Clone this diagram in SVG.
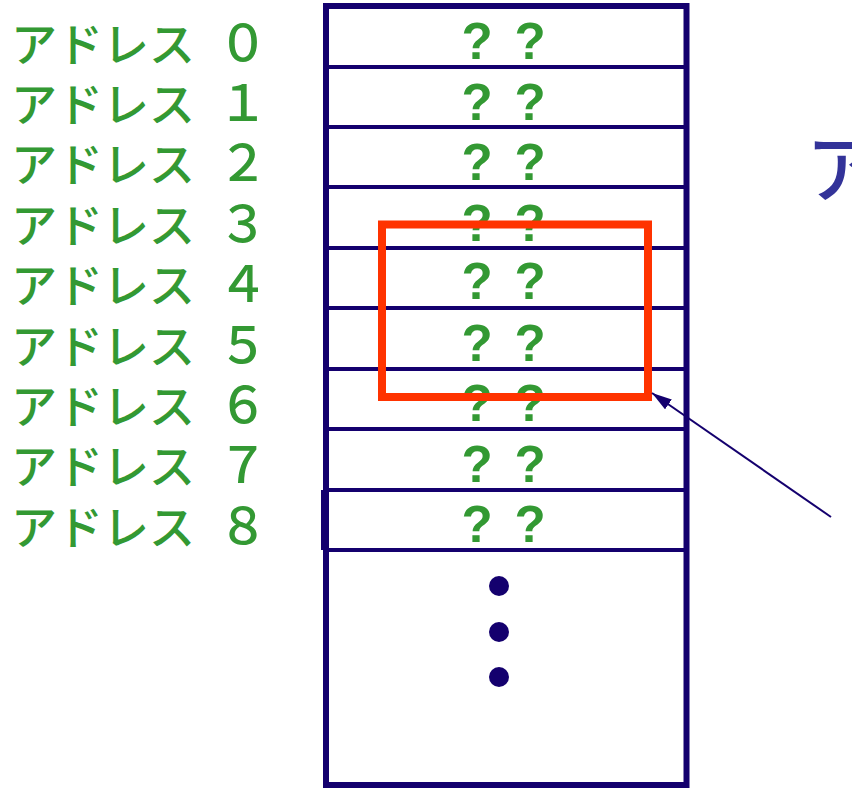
<svg xmlns="http://www.w3.org/2000/svg" width="852" height="788" viewBox="0 0 852 788">
  <defs>
    <style>
      .lbl { font-family: "Noto Sans CJK JP", "Noto Sans", sans-serif; font-weight: 500; font-size: 46px; fill: #339933; }
      .num { font-size: 50px; }
      .q { font-family: "Liberation Sans", "Noto Sans CJK JP", sans-serif; font-weight: bold; font-size: 51px; fill: #339933; text-anchor: middle; }
      .cell { fill: none; stroke: #14006e; stroke-width: 4; }
      .frame { fill: none; stroke: #14006e; stroke-width: 6; }
      .dot { fill: #14006e; }
    </style>
    <marker id="ah" viewBox="0 0 20 12" refX="20" refY="6" markerWidth="20" markerHeight="12" markerUnits="userSpaceOnUse" orient="auto">
      <path d="M0,0 L20,6 L0,12 z" fill="#14006e"/>
    </marker>
  </defs>
  <rect width="852" height="788" fill="#ffffff"/>

  <!-- address labels -->
  <g id="labels">
    <text class="lbl" x="11" y="61">アドレス<tspan class="num" x="243" text-anchor="middle">０</tspan></text>
    <text class="lbl" x="11" y="121">アドレス<tspan class="num" x="243" text-anchor="middle">１</tspan></text>
    <text class="lbl" x="11" y="181">アドレス<tspan class="num" x="243" text-anchor="middle">２</tspan></text>
    <text class="lbl" x="11" y="242">アドレス<tspan class="num" x="243" text-anchor="middle">３</tspan></text>
    <text class="lbl" x="11" y="302">アドレス<tspan class="num" x="243" text-anchor="middle">４</tspan></text>
    <text class="lbl" x="11" y="363">アドレス<tspan class="num" x="243" text-anchor="middle">５</tspan></text>
    <text class="lbl" x="11" y="423">アドレス<tspan class="num" x="243" text-anchor="middle">６</tspan></text>
    <text class="lbl" x="11" y="483">アドレス<tspan class="num" x="243" text-anchor="middle">７</tspan></text>
    <text class="lbl" x="11" y="544">アドレス<tspan class="num" x="243" text-anchor="middle">８</tspan></text>
  </g>

  <!-- memory column -->
  <g id="memory">
    <rect class="frame" x="326" y="6" width="360.5" height="779"/>
    <line class="cell" x1="326" y1="67" x2="686" y2="67"/>
    <line class="cell" x1="326" y1="127" x2="686" y2="127"/>
    <line class="cell" x1="326" y1="187" x2="686" y2="187"/>
    <line class="cell" x1="326" y1="248" x2="686" y2="248"/>
    <line class="cell" x1="326" y1="308" x2="686" y2="308"/>
    <line class="cell" x1="326" y1="369" x2="686" y2="369"/>
    <line class="cell" x1="326" y1="429" x2="686" y2="429"/>
    <line class="cell" x1="326" y1="490" x2="686" y2="490"/>
    <line class="cell" x1="326" y1="550" x2="686" y2="550"/>
    <line class="frame" x1="324" y1="490" x2="324" y2="550"/>
  </g>

  <!-- cell contents -->
  <g id="values">
    <text class="q" x="477 530" y="59">??</text>
    <text class="q" x="477 530" y="120">??</text>
    <text class="q" x="477 530" y="180">??</text>
    <text class="q" x="477 530" y="241">??</text>
    <text class="q" x="477 530" y="299">??</text>
    <text class="q" x="477 530" y="361">??</text>
    <text class="q" x="477 530" y="421">??</text>
    <text class="q" x="477 530" y="482">??</text>
    <text class="q" x="477 530" y="542">??</text>
    <circle class="dot" cx="499" cy="586" r="10"/>
    <circle class="dot" cx="499" cy="632" r="10"/>
    <circle class="dot" cx="499" cy="677" r="10"/>
  </g>

  <!-- highlighted range -->
  <g id="highlight">
    <rect x="382" y="224.5" width="266" height="172.5" fill="none" stroke="#ff3300" stroke-width="8"/>
  </g>

  <g id="connectors">
    <line x1="831" y1="517" x2="652" y2="393" stroke="#14006e" stroke-width="2" marker-end="url(#ah)"/>
  </g>

  <g id="caption">
    <text x="806" y="196" font-family="Noto Sans CJK JP, sans-serif" font-weight="500" font-size="74" fill="#333399">ア</text>
  </g>
</svg>
